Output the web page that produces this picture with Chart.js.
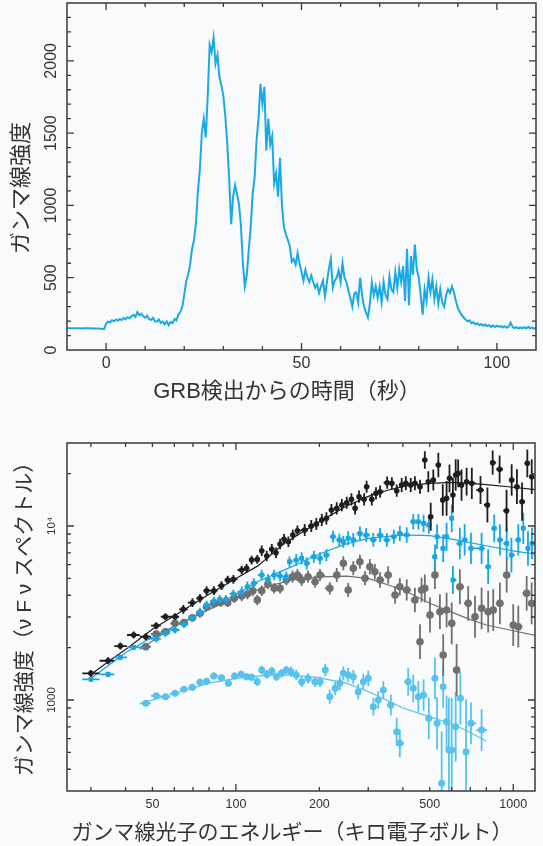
<!DOCTYPE html>
<html lang="ja">
<head>
<meta charset="UTF-8">
<title>GRB light curve and spectrum</title>
<script src="https://cdn.jsdelivr.net/npm/chart.js"></script>
<style>
  body { margin: 0; width: 543px; height: 846px; overflow: hidden; position: relative; background: #f8fafc; }
  canvas { position: absolute; left: 0; }
  #lc { top: 0; }
  #spec { top: 410px; }
</style>
</head>
<body>
<canvas id="lc" width="543" height="410"></canvas>
<canvas id="spec" width="543" height="436"></canvas>

<script>
// ---------- light curve (top) ----------
const lcStart = -10;     // s, first bin
const lcStep = 0.5;      // s per bin
const lcCounts = [
  150,151,150,150,151,150,150,149,150,150,151,150,149,150,149,149,148,147,146,146,
  182,197,190,206,199,211,203,215,207,221,213,227,219,233,243,229,262,240,251,233,
  223,237,214,208,223,199,196,211,188,196,177,199,171,193,186,214,205,245,262,300,
  380,478,520,590,700,760,880,1100,1250,1500,1600,1470,1750,2110,2060,2160,1980,2040,1890,1830,
  1760,1620,1430,1180,870,1060,1140,1080,1010,860,600,440,520,690,850,1080,1190,1450,1600,1840,
  1700,1820,1380,1600,1420,1480,1150,1220,1060,1330,1000,850,800,760,720,610,630,590,670,600,
  540,480,555,500,470,515,470,430,455,395,440,480,370,470,560,630,430,480,500,550,
  470,600,500,470,410,360,300,390,400,330,500,380,300,260,225,320,470,380,440,360,
  440,330,470,380,350,510,420,400,540,430,560,470,580,340,700,310,650,520,730,560,
  500,380,245,420,340,500,400,490,350,440,320,420,330,300,380,420,395,440,400,340,
  290,265,240,225,210,198,205,185,192,178,185,172,180,168,176,165,172,160,170,158,
  168,160,166,155,164,154,162,190,160,152,158,148,157,150,158,149,160,150,156,147,155
];
const lcXTicks = [0, 50, 100];
const lcYTicks = [0, 500, 1000, 1500, 2000];

// ---------- spectrum (bottom), energy keV / nuFnu ----------
const blackE = [30,34.6,38.3,42.8,47.3,51.6,55.7,60.3,64.6,69.7, 74.2,78.4,83.3,88.7,93.4,97.9,104.9,109.3,113.9,119.4,
  123.9,129.2,134.7,139.5,144.3,149.1,154.6,160.4,166.6, 177,187,195,204,212,221,231,241,251,261,
  269,278,290,296,309,320,331,351,365,380, 396,410,427,442,461,480,494,504,515,537,
  557,575,589,606,620,633,651,679,709,762, 807,843,893,946,987,1031,1076,1124,1166];
const blackF = [1423,1682,2043,2364,2311,2673,3010,3010,3321,3624, 3841,4249,4249,4539,4894,4940,5586,5710,6376,6431,
  7211,6722,7345,7024,7881,8385,8124,8878,9397, 9484,10000,10270,10830,11070,12360,12640,13200,13610,14230,
  12640,14740,14230,16820,14230,15420,15750,17740,17600,15960, 17200,17600,17200,17600,16820,23950,17970,11310,18380,22420,
  14110,14430,18790,15080,19640,20080,17200,17980,17590,16100, 13205,23120,21170,12250,18380,16830,13800,22920,19210];
const blackErr = [.02,.02,.02,.02,.02,.02,.02,.02,.025,.025, .025,.025,.025,.025,.025,.025,.025,.025,.025,.025,
  .03,.03,.03,.03,.03,.03,.03,.03,.03, .035,.035,.035,.035,.035,.035,.035,.035,.035,.035,
  .035,.035,.035,.035,.035,.035,.035,.035,.035,.035, .04,.04,.04,.04,.04,.05,.06,.08,.06,.07,
  .09,.1,.08,.1,.09,.08,.09,.08,.09,.08, .1,.07,.08,.12,.09,.1,.11,.08,.1];

const blueE = [30,34.6,38.3,42.8,51.6,55.7,60.3,65,69.7,74.2, 78.4,83.3,87.4,92,97.9,104.9,110,116,123.9,130.4,
  137.4,144.3,152,156,165,172.6,180,191,201,212, 224,236,244,254,265,280,295,313,331,350,
  371,390,413,436,455,475,496,522,531,559, 575,600,606,642,668,704,769,812,854,895, 947,985,1043,1087,1130,1168];
const blueF = [1315,1405,1759,2008,2250,2420,2526,2720,2950,3200, 3516,3707,3790,3790,4067,4188,4478,4680,5228,4940,
  5228,5160,5113,6237,6376,6522,6106,6660,6522,6810, 8680,8324,8124,8500,8324,9060,8878,8324,8878,8324,
  8680,9060,8878,10585,10585,10360,10130,6660,8680,7440, 8680,11070,4894,7937,8324,7440,7440,5836,9700,8324,
  7937,6810,8324,9700,7440,7937];
const blueErr = [.015,.015,.015,.015,.02,.02,.02,.02,.02,.025, .025,.025,.025,.025,.025,.03,.03,.03,.03,.03,
  .03,.03,.03,.03,.035,.035,.035,.035,.035,.035, .035,.035,.035,.04,.04,.04,.04,.04,.04,.04,
  .04,.045,.045,.045,.045,.05,.05,.07,.07,.08, .08,.08,.08,.09,.09,.09,.09,.1,.08,.09, .09,.1,.09,.09,.1,.09];

const grayE = [47.3,51.6,55.7,60.3,65,69.7,74.2,78.4,83.3,88.2, 93.4,98.6,104.9,110,115,119.4,123.9,130.4,137.4,144.3,
  152,160,166.6,172.6,182,193,201,218,231,244, 254,265,280,292,304,317,331,354,375,390,
  413,442,461,467,480,501,522,544,559,575, 600,625,642,688,728,769,812,847,895,947, 1000,1043,1118,1165];
const grayF = [2024,2395,2469,2760,2786,2972,3150,3438,3595,3643, 3625,3841,3960,4067,4231,3755,4248,4642,4385,4385,
  4894,5113,5228,4894,5113,4785,5228,4385,5228,6106, 4287,5714,6237,5006,5836,5463,4894,5228,4012,4478,
  4287,3755,2163,4287,4385,3080,5228,3217,1814,3290, 2760,1487,4478,3595,3010,3365,3217,3290,3595,5228,
  2698,2638,4104,3595];
const grayErr = [.02,.02,.02,.02,.02,.02,.025,.025,.025,.025, .025,.025,.03,.03,.03,.03,.03,.03,.03,.03,
  .03,.035,.035,.035,.035,.035,.035,.035,.04,.04, .04,.04,.04,.04,.045,.045,.045,.05,.05,.05,
  .06,.07,.1,.07,.08,.1,.08,.1,.12,.1, .12,.15,.1,.1,.12,.12,.12,.12,.12,.1, .12,.12,.1,.12];

const lightE = [47.3,51.6,55.7,60.3,65,69.7,74.2,78.4,83.3,88.7, 93.9,98.9,104.5,109.3,113.9,119.4,123.9,129.2,134.7,140,
  146,152,158,165,172.6,182,193,201,210,218, 228,237,244,254,265,276,288,300,313,326,
  340,362,380,390,418,436,455,475,496,522, 531,552,559,575,586,600,620,645,676,704, 769];
const lightF = [957,1058,1044,1093,1152,1183,1264,1281,1374,1343, 1247,1374,1405,1361,1350,1274,1487,1405,1468,1361,
  1423,1487,1455,1392,1274,1332,1274,1274,1487,1044, 1167,1247,1423,1392,1361,1116,1274,1332,915,1000,
  1141,936,657,564,1274,1167,1044,1068,785,1332, 735,332,1192,750,516,516,703,1023,505,735, 672];
const lightErr = [.015,.015,.015,.015,.015,.02,.02,.02,.02,.02, .02,.02,.02,.02,.02,.025,.025,.025,.025,.025,
  .025,.025,.03,.03,.03,.03,.03,.03,.035,.04, .04,.04,.04,.04,.04,.045,.045,.045,.05,.05,
  .05,.06,.08,.08,.08,.08,.09,.09,.12,.12, .15,.3,.12,.15,.3,.3,.2,.15,.3,.12, .12];

// fitted models
const modelBlackE = [30,35,40,50,60,70,80,100,120,150,200,250,300,350,400,450,500,600,700,800,1000,1200];
const modelBlackF = [1400,1680,1950,2550,3050,3550,4050,5000,5900,8000,10600,13000,14800,16000,16900,17300,17600,17800,17600,17300,16700,16200];
const modelBlueE = [30,40,50,60,70,80,100,120,150,200,250,300,400,500,600,800,1000,1200];
const modelBlueF = [1330,1870,2300,2650,3000,3350,4050,4800,5600,6900,7900,8500,8900,8800,8400,7700,7200,6900];
const modelGrayE = [45,60,80,100,130,160,200,250,300,400,500,600,700,800,1000,1200];
const modelGrayF = [1950,2650,3300,3900,4500,4900,5100,5150,5000,4300,3600,3200,2900,2700,2500,2350];
const modelLightE = [45,60,80,100,130,160,200,250,300,400,500,600,700,800];
const modelLightF = [950,1090,1250,1330,1390,1390,1340,1250,1120,900,800,730,650,580];

const specXTicks = [50, 100, 200, 500, 1000];
const specYTicks = [1000, 10000];

// ---------- styling ----------
const textColor = '#333';
const axisColor = '#3a3a3a';
const numFont = '"Liberation Sans", "Noto Sans", sans-serif';
const jpFont = '"Liberation Sans", "Noto Sans CJK JP", sans-serif';
const cBlack = '#1e1e1e', cBlue = '#17a6e1', cGray = '#707070', cLight = '#58c2ec';

// frame with inward ticks, tick labels and axis titles
const framePlugin = {
  id: 'frame',
  afterDatasetsDraw(chart, args, o) {
    const { ctx, chartArea: a } = chart;
    const sx = chart.scales.x, sy = chart.scales.y;
    ctx.save();
    ctx.strokeStyle = axisColor;
    ctx.lineWidth = 1.3;
    ctx.beginPath();
    o.xTicks.forEach(([v, len]) => {
      const p = sx.getPixelForValue(v);
      if (p <= a.left + 1 || p >= a.right - 1) return;
      ctx.moveTo(p, a.bottom); ctx.lineTo(p, a.bottom - len);
      ctx.moveTo(p, a.top); ctx.lineTo(p, a.top + len);
    });
    o.yTicks.forEach(([v, len]) => {
      const p = sy.getPixelForValue(v);
      if (p <= a.top + 1 || p >= a.bottom - 1) return;
      ctx.moveTo(a.left, p); ctx.lineTo(a.left + len, p);
      ctx.moveTo(a.right, p); ctx.lineTo(a.right - len, p);
    });
    ctx.stroke();
    ctx.lineWidth = 1.5;
    ctx.strokeRect(a.left, a.top, a.right - a.left, a.bottom - a.top);

    ctx.fillStyle = textColor;
    ctx.textAlign = 'center';
    ctx.textBaseline = 'middle';
    ctx.font = o.xLabelFont;
    o.xLabels.forEach(v => ctx.fillText(String(v), sx.getPixelForValue(v), o.xLabelY));
    ctx.font = o.yLabelFont;
    o.yLabels.forEach(([v, s]) => {
      ctx.save();
      ctx.translate(o.yLabelX, sy.getPixelForValue(v));
      ctx.rotate(-Math.PI / 2);
      ctx.fillText(s, 0, 0);
      ctx.restore();
    });
    ctx.font = o.titleFont;
    ctx.fillText(o.xTitle, o.xTitlePos[0], o.xTitlePos[1]);
    ctx.save();
    ctx.translate(o.yTitlePos[0], o.yTitlePos[1]);
    ctx.rotate(-Math.PI / 2);
    ctx.fillText(o.yTitle, 0, 0);
    ctx.restore();
    ctx.restore();
  }
};

// x (bin) and y error bars, drawn just under each dataset's markers
const errorBarPlugin = {
  id: 'errorBars',
  beforeDatasetDraw(chart, args) {
    const ds = chart.data.datasets[args.index];
    if (!ds.errors) return;
    const { ctx, chartArea: a } = chart;
    const sx = chart.scales.x, sy = chart.scales.y;
    ctx.save();
    ctx.beginPath();
    ctx.rect(a.left, a.top, a.right - a.left, a.bottom - a.top);
    ctx.clip();
    ctx.strokeStyle = ds.borderColor;
    ctx.lineWidth = 1.8;
    ctx.beginPath();
    ds.data.forEach((p, i) => {
      const e = ds.errors[i];
      const px = sx.getPixelForValue(p.x), py = sy.getPixelForValue(p.y);
      ctx.moveTo(sx.getPixelForValue(e.xLo), py); ctx.lineTo(sx.getPixelForValue(e.xHi), py);
      ctx.moveTo(px, sy.getPixelForValue(e.yLo)); ctx.lineTo(px, sy.getPixelForValue(e.yHi));
    });
    ctx.stroke();
    ctx.restore();
  }
};

function ticksList(major, minor, majorLen, minorLen) {
  return major.map(v => [v, majorLen]).concat(minor.map(v => [v, minorLen]));
}

// ---------- top chart ----------
const lcYMinor = [];
for (let v = 100; v < 2400; v += 100) if (v % 500) lcYMinor.push(v);

new Chart(document.getElementById('lc'), {
  type: 'line',
  data: {
    datasets: [{
      data: lcCounts.map((c, i) => ({ x: lcStart + i * lcStep, y: c })),
      borderColor: '#1ba9e6', borderWidth: 2, pointRadius: 0, tension: 0
    }]
  },
  options: {
    responsive: false, animation: false, events: [],
    layout: { padding: { left: 0, right: 7, top: 3, bottom: 0 } },
    plugins: {
      legend: { display: false }, tooltip: { enabled: false },
      frame: {
        xTicks: ticksList(lcXTicks, [10, 20, 30, 40, 60, 70, 80, 90], 7, 4),
        yTicks: ticksList(lcYTicks, lcYMinor, 7, 4),
        xLabels: lcXTicks, xLabelY: 364, xLabelFont: '16px ' + numFont,
        yLabels: lcYTicks.map(v => [v, String(v)]), yLabelX: 52, yLabelFont: '16px ' + numFont,
        titleFont: '22px ' + jpFont,
        xTitle: 'GRB検出からの時間（秒）', xTitlePos: [287, 392],
        yTitle: 'ガンマ線強度', yTitlePos: [22, 188]
      }
    },
    scales: {
      x: { type: 'linear', min: -10, max: 110, afterFit: s => { s.height = 60; },
           grid: { display: false, drawTicks: false }, border: { display: false }, ticks: { display: false } },
      y: { type: 'linear', min: 0, max: 2400, afterFit: s => { s.width = 67; },
           grid: { display: false, drawTicks: false }, border: { display: false }, ticks: { display: false } }
    }
  },
  plugins: [framePlugin]
});

// ---------- bottom chart ----------
function pointSeries(E, F, err, color, style, radius) {
  const errors = E.map((e, i) => {
    const hi = i < E.length - 1 ? Math.sqrt(e * E[i + 1]) : e * e / Math.sqrt(E[i - 1] * e);
    const lo = i > 0 ? Math.sqrt(E[i - 1] * e) : e * e / hi;
    const f = Math.pow(10, err[i]);
    return { xLo: lo, xHi: hi, yLo: F[i] / f, yHi: F[i] * f };
  });
  return {
    data: E.map((e, i) => ({ x: e, y: F[i] })), errors,
    borderColor: color, backgroundColor: color, pointStyle: style, pointRadius: radius,
    pointBorderWidth: 0, showLine: false
  };
}
function modelSeries(E, F, color) {
  return {
    data: E.map((e, i) => ({ x: e, y: F[i] })),
    borderColor: color, borderWidth: 1.2, pointRadius: 0, showLine: true, tension: 0
  };
}

new Chart(document.getElementById('spec'), {
  type: 'scatter',
  data: {
    datasets: [
      pointSeries(blackE, blackF, blackErr, cBlack, 'circle', 2.8),
      pointSeries(blueE, blueF, blueErr, cBlue, 'rect', 3.3),
      pointSeries(grayE, grayF, grayErr, cGray, 'circle', 3.8),
      pointSeries(lightE, lightF, lightErr, cLight, 'circle', 3.5),
      modelSeries(modelBlackE, modelBlackF, cBlack),
      modelSeries(modelBlueE, modelBlueF, cBlue),
      modelSeries(modelGrayE, modelGrayF, cGray),
      modelSeries(modelLightE, modelLightF, cLight)
    ]
  },
  options: {
    responsive: false, animation: false, events: [],
    layout: { padding: { left: 0, right: 8, top: 33, bottom: 0 } },
    plugins: {
      legend: { display: false }, tooltip: { enabled: false },
      frame: {
        xTicks: ticksList([100, 1000], [30, 40, 50, 60, 70, 80, 90, 200, 300, 400, 500, 600, 700, 800, 900], 7, 4),
        yTicks: ticksList(specYTicks, [400, 500, 600, 700, 800, 900, 2000, 3000, 4000, 5000, 6000, 7000, 8000, 9000, 20000], 7, 4),
        xLabels: specXTicks, xLabelY: 395, xLabelFont: '12.5px ' + numFont,
        yLabels: [[1000, '1000'], [10000, '10⁴']], yLabelX: 52, yLabelFont: '11.5px ' + numFont,
        titleFont: '21px ' + jpFont,
        xTitle: 'ガンマ線光子のエネルギー（キロ電子ボルト）', xTitlePos: [292, 423],
        yTitle: 'ガンマ線強度（ν F ν スペクトル）', yTitlePos: [25, 204]
      }
    },
    scales: {
      x: { type: 'logarithmic', min: 24.6, max: 1198, afterFit: s => { s.height = 55; },
           grid: { display: false, drawTicks: false }, border: { display: false }, ticks: { display: false } },
      y: { type: 'logarithmic', min: 300, max: 30000, afterFit: s => { s.width = 67; },
           grid: { display: false, drawTicks: false }, border: { display: false }, ticks: { display: false } }
    }
  },
  plugins: [errorBarPlugin, framePlugin]
});
</script>
</body>
</html>
